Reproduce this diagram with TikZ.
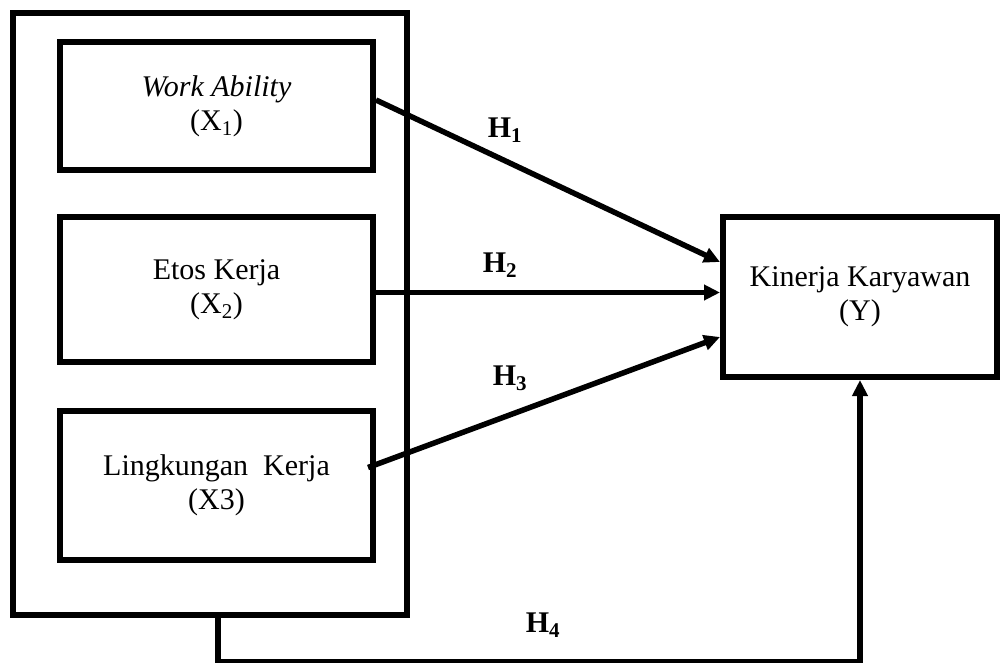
\documentclass[tikz,border=0pt]{standalone}
\usepackage{fontspec}
\setmainfont{Liberation Serif}
\usetikzlibrary{arrows.meta}
\begin{document}
\begin{tikzpicture}[x=1pt,y=-1pt,
  box/.style={draw=black,line width=6pt,rectangle,inner sep=0pt,align=center,
    font=\fontsize{30}{34}\selectfont},
  conn/.style={line width=5.5pt,-{Triangle[length=16pt,width=15pt]}},
  hlab/.style={font=\fontsize{30}{34}\selectfont\bfseries,inner sep=0pt}]
\useasboundingbox (0,0) rectangle (1002,662);
\node[box,minimum width=394pt,minimum height=602pt] (outer) at (210,314) {};
\node[box,minimum width=313pt,minimum height=128pt] (b1) at (216.5,106)
  {\textit{Work Ability}\\(X\textsubscript{1})};
\node[box,minimum width=313pt,minimum height=145pt] (b2) at (216.5,289.5)
  {Etos Kerja\\(X\textsubscript{2})};
\node[box,minimum width=313pt,minimum height=149pt] (b3) at (216.5,485.5)
  {Lingkungan\ \ Kerja\\(X3)};
\node[box,minimum width=274pt,minimum height=160pt] (Y) at (860,297)
  {Kinerja Karyawan\\(Y)};
\draw[conn] ([yshift=6pt]b1.east) -- ([yshift=35pt]Y.west);
\draw[conn] ([yshift=-3pt]b2.east) -- ([yshift=-3pt]b2.east -| Y.west);
\draw[conn] ([xshift=-8pt,yshift=18pt]b3.east) -- ([yshift=-40pt]Y.west);
\coordinate (c1) at ([xshift=8pt,yshift=-44pt]outer.south);
\draw[conn] ([xshift=8pt]outer.south) -- (c1) -| (Y.south);
\node[hlab] (h1) at (505,130) {H\textsubscript{1}};
\node[hlab] (h2) at (500,265) {H\textsubscript{2}};
\node[hlab] (h3) at (510,378) {H\textsubscript{3}};
\node[hlab] (h4) at (543,625) {H\textsubscript{4}};
\end{tikzpicture}
\end{document}
